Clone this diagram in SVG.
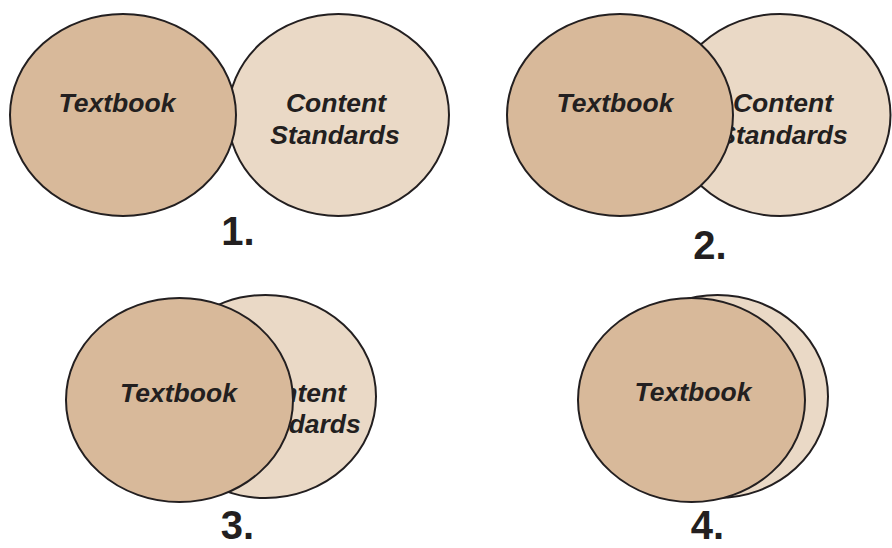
<svg xmlns="http://www.w3.org/2000/svg" width="892" height="548" viewBox="0 0 892 548">
<style>
.tb{fill:#D8B99A;stroke:#231F20;stroke-width:2}
.cs{fill:#EAD9C6;stroke:#231F20;stroke-width:2}
.lbl{font-family:"Liberation Sans",Arial,sans-serif;font-weight:bold;font-style:italic;font-size:26.5px;fill:#231F20;text-anchor:middle}
.num{font-family:"Liberation Sans",Arial,sans-serif;font-weight:bold;font-size:40px;fill:#231F20;text-anchor:middle}
</style>
<rect width="892" height="548" fill="#FFFFFF"/>
<g id="panel1">
<g id="p1-content">
<ellipse class="cs" cx="338.5" cy="115" rx="110.5" ry="101"/>
<text class="lbl" x="336" y="112">Content</text>
<text class="lbl" x="335" y="144">Standards</text>
</g>
<g id="p1-textbook">
<ellipse class="tb" cx="123" cy="115" rx="113" ry="101"/>
<text class="lbl" x="117" y="112">Textbook</text>
</g>
<text class="num" x="238" y="245">1.</text>
</g>
<g id="panel2">
<g id="p2-content">
<ellipse class="cs" cx="780" cy="115" rx="110.5" ry="101"/>
<text class="lbl" x="783" y="112">Content</text>
<text class="lbl" x="783" y="144">Standards</text>
</g>
<g id="p2-textbook">
<ellipse class="tb" cx="620" cy="115" rx="113" ry="101"/>
<text class="lbl" x="615" y="112">Textbook</text>
</g>
<text class="num" x="710" y="259">2.</text>
</g>
<g id="panel3">
<g id="p3-content">
<ellipse class="cs" cx="265.5" cy="396.5" rx="110.5" ry="101.5"/>
<text class="lbl" x="296" y="402">Content</text>
<text class="lbl" x="296" y="433">Standards</text>
</g>
<g id="p3-textbook">
<ellipse class="tb" cx="179.5" cy="400" rx="113.5" ry="102"/>
<text class="lbl" x="178.5" y="402">Textbook</text>
</g>
<text class="num" x="237.5" y="539">3.</text>
</g>
<g id="panel4">
<g id="p4-content">
<ellipse class="cs" cx="717.5" cy="396.5" rx="110.5" ry="101.5"/>
</g>
<g id="p4-textbook">
<ellipse class="tb" cx="691.5" cy="400" rx="113.5" ry="102"/>
<text class="lbl" x="693" y="401">Textbook</text>
</g>
<text class="num" x="707.5" y="539">4.</text>
</g>
<g id="connectors"/>
</svg>
